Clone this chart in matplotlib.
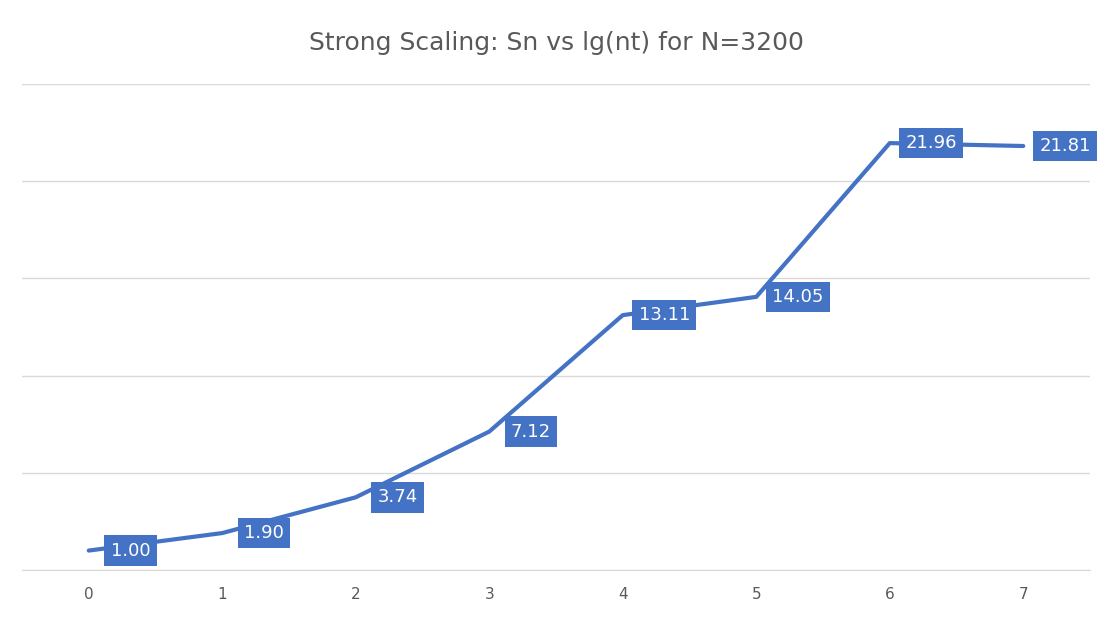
import matplotlib.pyplot as plt

# dane
lg_nt = [0, 1, 2, 3, 4, 5, 6, 7]
speedup = [1.00, 1.90, 3.74, 7.12, 13.11, 14.05, 21.96, 21.81]
line_color = '#4472C4'

fig = plt.figure(figsize=(11.12, 6.22), dpi=100)
ax = fig.add_axes([22 / 1112, 1 - 570 / 622, (1090 - 22) / 1112, (570 - 84) / 622])

ax.plot(lg_nt, speedup, color=line_color, linewidth=3, solid_capstyle='round', zorder=3)

for x, y in zip(lg_nt, speedup):
    ax.annotate(f'{y:.2f}', (x, y), xytext=(30, 0), textcoords='offset points',
                ha='center', va='center', fontsize=13, color='white',
                bbox=dict(boxstyle='square,pad=0.35', fc=line_color, ec='none'), zorder=4)

ax.set_xlim(-0.5, 7.5)
ax.set_ylim(0, 25)
ax.set_xticks(lg_nt)
ax.set_yticks([0, 5, 10, 15, 20, 25])
ax.set_yticklabels([])
ax.tick_params(axis='both', length=0, labelsize=11, labelcolor='#595959', pad=12)
ax.grid(axis='y', color='#D9D9D9', linewidth=1)
for s in ax.spines.values():
    s.set_visible(False)
ax.spines['bottom'].set_visible(True)
ax.spines['bottom'].set_color('#D9D9D9')

fig.suptitle('Strong Scaling: Sn vs lg(nt) for N=3200', y=0.95, fontsize=18, color='#595959')

plt.savefig('out.png', dpi=100)
